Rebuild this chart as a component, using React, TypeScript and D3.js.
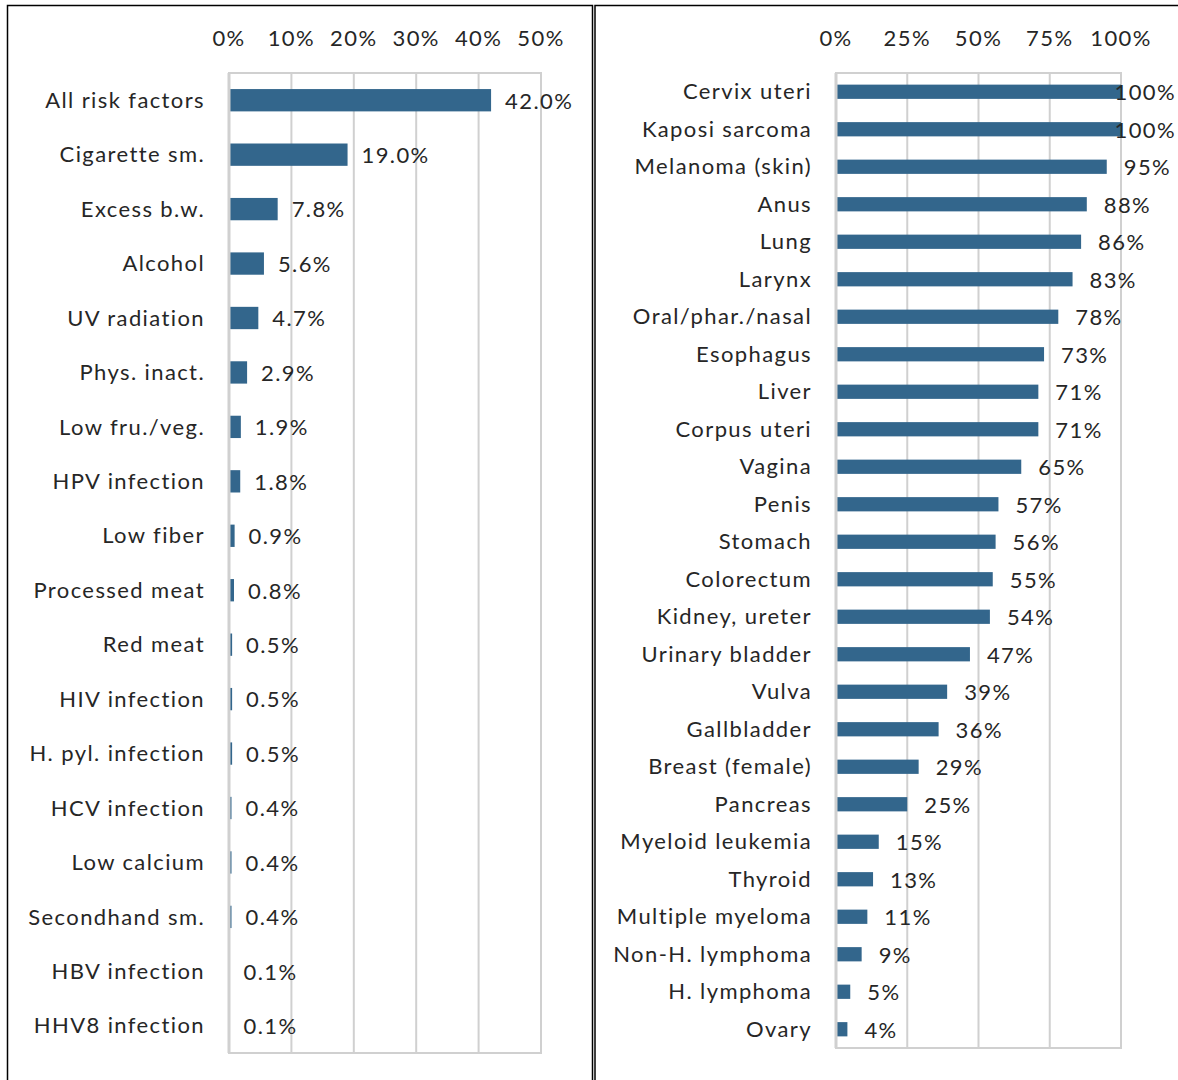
import React from "react";
import * as d3 from "d3";

const riskFactors = [
  "All risk factors", "Cigarette sm.", "Excess b.w.", "Alcohol", "UV radiation",
  "Phys. inact.", "Low fru./veg.", "HPV infection", "Low fiber", "Processed meat",
  "Red meat", "HIV infection", "H. pyl. infection", "HCV infection", "Low calcium",
  "Secondhand sm.", "HBV infection", "HHV8 infection",
];
const riskValues = [42.0, 19.0, 7.8, 5.6, 4.7, 2.9, 1.9, 1.8, 0.9, 0.8, 0.5, 0.5, 0.5, 0.4, 0.4, 0.4, 0.1, 0.1];
const riskTicks = [0, 10, 20, 30, 40, 50];

const cancerSites = [
  "Cervix uteri", "Kaposi sarcoma", "Melanoma (skin)", "Anus", "Lung", "Larynx",
  "Oral/phar./nasal", "Esophagus", "Liver", "Corpus uteri", "Vagina", "Penis",
  "Stomach", "Colorectum", "Kidney, ureter", "Urinary bladder", "Vulva", "Gallbladder",
  "Breast (female)", "Pancreas", "Myeloid leukemia", "Thyroid", "Multiple myeloma",
  "Non-H. lymphoma", "H. lymphoma", "Ovary",
];
const siteValues = [100, 100, 95, 88, 86, 83, 78, 73, 71, 71, 65, 57, 56, 55, 54, 47, 39, 36, 29, 25, 15, 13, 11, 9, 5, 4];
const siteTicks = [0, 25, 50, 75, 100];

const FONT = "Lato, 'Open Sans', sans-serif";
const BAR = "#33668c";
const GRID = "#d0d0d0";
const TEXT = "#262626";

type PanelProps = {
  cats: string[];
  vals: number[];
  ticks: number[];
  max: number;
  x0: number;
  x1: number;
  y0: number;
  y1: number;
  pad: number;
  labelGap: number;
  fmt: (v: number) => string;
  rightLimit: number;
};

function Panel(p: PanelProps) {
  const x = d3.scaleLinear().domain([0, p.max]).range([p.x0, p.x1]);
  const y = d3.scaleBand<string>().domain(p.cats).range([p.y0, p.y1]).paddingInner(p.pad).paddingOuter(p.pad / 2);
  const fs = 22;
  const ls = 1.4;
  return (
    <g fontFamily={FONT} fontSize={fs} fill={TEXT} letterSpacing={ls}>
      {p.ticks.map((t) => (
        <g key={t}>
          <line x1={x(t)} x2={x(t)} y1={p.y0} y2={p.y1} stroke={GRID} strokeWidth={2} />
          <text x={x(t)} y={46} textAnchor="middle">{t}%</text>
        </g>
      ))}
      <line x1={p.x0 - 1} x2={p.x1 + 1} y1={p.y0} y2={p.y0} stroke={GRID} strokeWidth={2} />
      {p.cats.map((c, i) => {
        const yc = (y(c) ?? 0) + y.bandwidth() / 2;
        const end = x(p.vals[i]);
        const label = p.fmt(p.vals[i]);
        const approxW = label.length * (fs * 0.52 + ls);
        const clamp = end + p.labelGap + approxW > p.rightLimit;
        return (
          <g key={c}>
            <text x={p.x0 - 24} y={yc} dy="0.35em" textAnchor="end">{c}</text>
            <rect x={p.x0} y={y(c)} width={end - p.x0} height={y.bandwidth()} fill={BAR} />
            <text
              x={clamp ? p.rightLimit : end + p.labelGap}
              y={yc}
              dy="0.38em"
              textAnchor={clamp ? "end" : "start"}
            >
              {label}
            </text>
          </g>
        );
      })}
      <line x1={p.x0} x2={p.x0} y1={p.y0} y2={p.y1} stroke={GRID} strokeWidth={3} />
      <line x1={p.x0 - 1} x2={p.x1 + 1} y1={p.y1} y2={p.y1} stroke={GRID} strokeWidth={2} />
    </g>
  );
}

export default function App() {
  return (
    <svg width={1178} height={1080} style={{ position: "absolute", left: 0, top: 0, background: "#fff" }}>
      <rect x={0} y={0} width={1178} height={1080} fill="#fff" />
      <rect x={7.5} y={5.5} width={585} height={1090} fill="none" stroke="#000" strokeWidth={1.5} />
      <rect x={595} y={5.5} width={600} height={1090} fill="none" stroke="#000" strokeWidth={1.5} />
      <Panel
        cats={riskFactors}
        vals={riskValues}
        ticks={riskTicks}
        max={50}
        x0={229}
        x1={541}
        y0={73}
        y1={1053}
        pad={0.59}
        labelGap={14}
        fmt={(v) => v.toFixed(1) + "%"}
        rightLimit={580}
      />
      <Panel
        cats={cancerSites}
        vals={siteValues}
        ticks={siteTicks}
        max={100}
        x0={836}
        x1={1121}
        y0={73}
        y1={1048}
        pad={0.62}
        labelGap={17}
        fmt={(v) => v + "%"}
        rightLimit={1176}
      />
    </svg>
  );
}
